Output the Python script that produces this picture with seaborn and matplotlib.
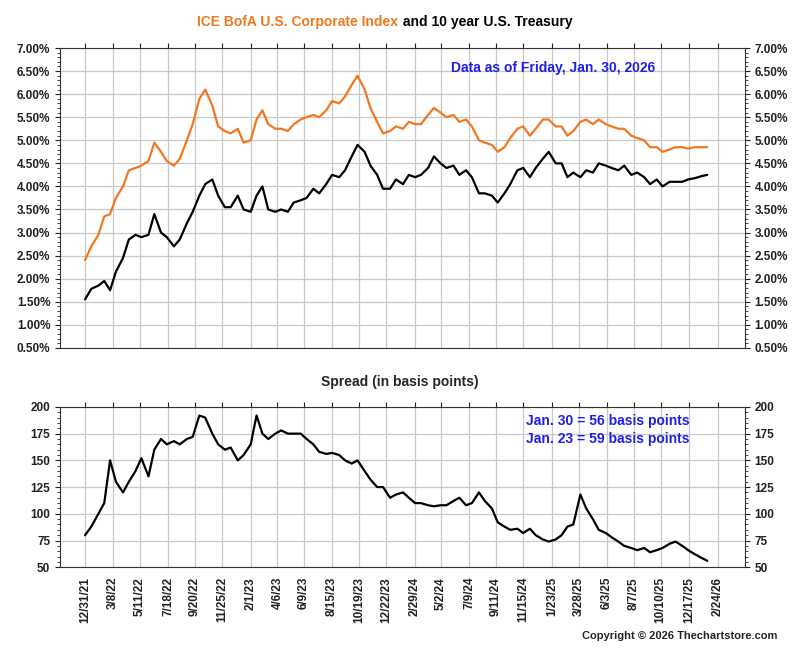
#!/usr/bin/env python3
import numpy as np
import pandas as pd
import matplotlib.pyplot as plt
import matplotlib.dates as mdates
from matplotlib.ticker import FuncFormatter, MultipleLocator
import seaborn as sns

# -------------------------
# Values (1st and 15th of each month, then Jan. 30, 2026)
# -------------------------
TREASURY = [
    1.55, 1.78, 1.85, 1.95, 1.75, 2.15, 2.45, 2.85, 2.95, 2.90, 2.95, 3.40,
    3.00, 2.90, 2.70, 2.85, 3.20, 3.45, 3.80, 4.05, 4.15, 3.80, 3.55, 3.55,
    3.80, 3.50, 3.45, 3.80, 4.00, 3.50, 3.45, 3.50, 3.45, 3.65, 3.70, 3.75,
    3.95, 3.85, 4.05, 4.25, 4.20, 4.35, 4.65, 4.90, 4.75, 4.45, 4.25, 3.95,
    3.95, 4.15, 4.05, 4.25, 4.20, 4.25, 4.40, 4.65, 4.50, 4.40, 4.45, 4.25,
    4.35, 4.20, 3.85, 3.85, 3.80, 3.65, 3.85, 4.05, 4.35, 4.40, 4.20, 4.40,
    4.60, 4.75, 4.50, 4.50, 4.20, 4.30, 4.20, 4.35, 4.30, 4.50, 4.45, 4.40,
    4.35, 4.45, 4.25, 4.30, 4.20, 4.05, 4.15, 4.00, 4.10, 4.10, 4.10, 4.15,
    4.18, 4.22, 4.25,
]
CORPORATE = [
    2.40, 2.70, 2.95, 3.35, 3.40, 3.75, 4.00, 4.35, 4.40, 4.45, 4.55, 4.95,
    4.75, 4.55, 4.45, 4.60, 5.00, 5.35, 5.90, 6.10, 5.75, 5.30, 5.20, 5.15,
    5.25, 4.95, 5.00, 5.45, 5.65, 5.35, 5.25, 5.25, 5.20, 5.35, 5.45, 5.50,
    5.55, 5.50, 5.65, 5.85, 5.80, 5.95, 6.20, 6.40, 6.10, 5.70, 5.40, 5.15,
    5.20, 5.30, 5.25, 5.40, 5.35, 5.35, 5.55, 5.70, 5.60, 5.50, 5.55, 5.40,
    5.45, 5.30, 5.00, 4.95, 4.90, 4.75, 4.85, 5.05, 5.25, 5.30, 5.10, 5.25,
    5.45, 5.45, 5.30, 5.30, 5.10, 5.20, 5.40, 5.45, 5.35, 5.45, 5.35, 5.30,
    5.25, 5.25, 5.10, 5.05, 5.00, 4.85, 4.85, 4.75, 4.80, 4.85, 4.85, 4.82,
    4.85, 4.85, 4.85,
]
SPREAD = [
    80, 88, 100, 110, 150, 130, 120, 130, 140, 152, 135, 160,
    170, 165, 168, 165, 170, 172, 192, 190, 175, 165, 160, 162,
    150, 155, 165, 192, 175, 170, 175, 178, 175, 175, 175, 170,
    165, 158, 156, 157, 155, 150, 147, 150, 140, 132, 125, 125,
    115, 118, 120, 115, 110, 110, 108, 107, 108, 108, 112, 115,
    108, 110, 120, 112, 105, 92, 88, 85, 86, 82, 86, 80,
    76, 74, 76, 80, 88, 90, 118, 105, 95, 85, 82, 78,
    74, 70, 68, 66, 68, 64, 66, 68, 72, 74, 70, 66,
    62, 59, 56,
]
TICK_DATES = ["12/31/21", "3/8/22", "5/11/22", "7/18/22", "9/20/22", "11/25/22",
              "2/1/23", "4/6/23", "6/9/23", "8/15/23", "10/19/23", "12/22/23",
              "2/29/24", "5/2/24", "7/9/24", "9/11/24", "11/15/24", "1/23/25",
              "3/28/25", "6/3/25", "8/7/25", "10/10/25", "12/17/25", "2/24/26"]
BLUE = "#1f1fe6"
ORANGE = "#f07820"


def build_frame():
    dates = list(pd.date_range("2022-01-01", "2026-01-15", freq="SMS"))
    dates.append(pd.Timestamp("2026-01-30"))
    dates[0] = pd.Timestamp("2021-12-31")
    return pd.DataFrame({"date": dates, "treasury": TREASURY,
                         "corporate": CORPORATE, "spread": SPREAD})


def style_axis(ax, ticks):
    ax.set_xlim(pd.Timestamp("2021-11-01"), pd.Timestamp("2026-04-30"))
    ax.set_xticks(ticks)
    ax.grid(True, color="#c8c8c8", linewidth=0.9)
    ax.tick_params(axis="both", which="both", direction="out",
                   left=True, right=True, top=True, labelright=True,
                   labelsize=8.5, colors="#222222")
    ax.set_xlabel("")
    ax.set_ylabel("")
    for s in ax.spines.values():
        s.set_color("#333333")
    for lab in ax.get_yticklabels():
        lab.set_fontweight("bold")


def main():
    sns.set_style("white")
    plt.rcParams["font.family"] = ["Liberation Sans", "DejaVu Sans"]
    df = build_frame()
    ticks = pd.to_datetime(TICK_DATES, format="%m/%d/%y")

    fig = plt.figure(figsize=(8, 6.49), dpi=100)
    ax1 = fig.add_axes([0.075, 0.464, 0.856, 0.462])
    ax2 = fig.add_axes([0.075, 0.126, 0.856, 0.247])

    # top panel: yields
    sns.lineplot(data=df, x="date", y="corporate", color=ORANGE, linewidth=1.6, ax=ax1)
    sns.lineplot(data=df, x="date", y="treasury", color="black", linewidth=1.6, ax=ax1)
    ax1.set_ylim(0.5, 7.0)
    ax1.yaxis.set_major_locator(MultipleLocator(0.5))
    ax1.yaxis.set_minor_locator(MultipleLocator(0.1))
    ax1.yaxis.set_major_formatter(FuncFormatter(lambda v, p: f"{v:.2f}%"))
    style_axis(ax1, ticks)
    ax1.tick_params(axis="x", labelbottom=False)
    ax1.text(0.72, 0.935, "Data as of Friday, Jan. 30, 2026", transform=ax1.transAxes,
             ha="center", va="center", color=BLUE, fontsize=10, fontweight="bold")

    # bottom panel: spread
    sns.lineplot(data=df, x="date", y="spread", color="black", linewidth=1.6, ax=ax2)
    ax2.set_ylim(50, 200)
    ax2.yaxis.set_major_locator(MultipleLocator(25))
    ax2.yaxis.set_minor_locator(MultipleLocator(5))
    style_axis(ax2, ticks)
    ax2.set_xticklabels(TICK_DATES, rotation=90, fontsize=8.5, fontweight="bold")
    ax2.text(0.80, 0.91, "Jan. 30 = 56 basis points", transform=ax2.transAxes,
             ha="center", va="center", color=BLUE, fontsize=10, fontweight="bold")
    ax2.text(0.80, 0.80, "Jan. 23 = 59 basis points", transform=ax2.transAxes,
             ha="center", va="center", color=BLUE, fontsize=10, fontweight="bold")

    # titles
    fig.text(0.497, 0.966, "ICE BofA U.S. Corporate Index", ha="right", va="center",
             color=ORANGE, fontsize=10, fontweight="bold")
    fig.text(0.499, 0.966, " and 10 year U.S. Treasury", ha="left", va="center",
             color="black", fontsize=10, fontweight="bold")
    fig.text(0.5, 0.411, "Spread (in basis points)", ha="center", va="center",
             fontsize=10, fontweight="bold")
    fig.text(0.972, 0.02, "Copyright \u00a9 2026 Thechartstore.com", ha="right",
             va="center", fontsize=8, fontweight="bold")

    fig.savefig("out.png", dpi=100)
    plt.close(fig)


if __name__ == "__main__":
    main()
